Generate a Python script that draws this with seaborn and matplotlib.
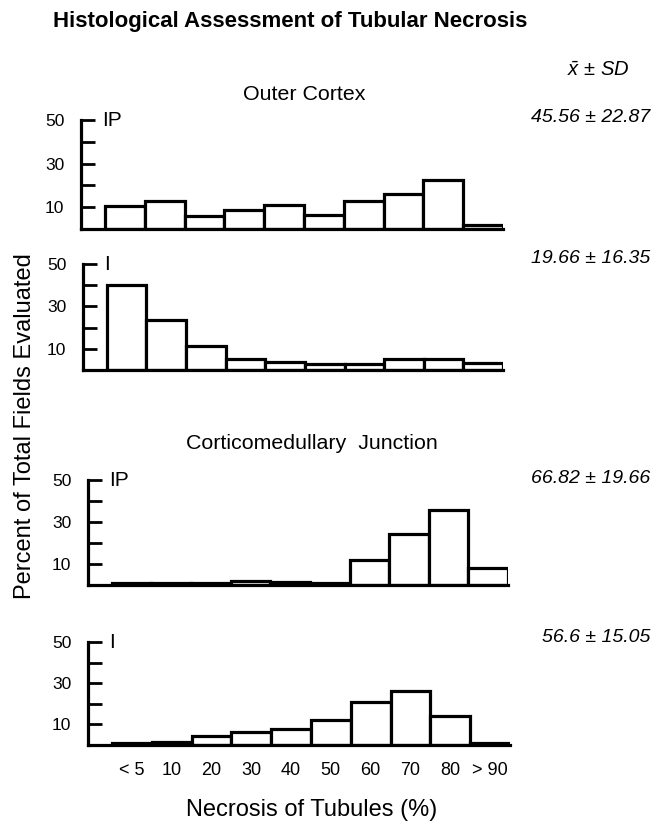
import matplotlib
matplotlib.use("Agg")
import matplotlib.pyplot as plt
import seaborn as sns
import pandas as pd

sns.set_style("white")
plt.rcParams['font.family'] = ['Liberation Sans', 'DejaVu Sans']
plt.rcParams.update({"text.color": "black", "xtick.color": "black", "ytick.color": "black",
                     "axes.labelcolor": "black", "mathtext.fontset": "custom",
                     "mathtext.it": "Liberation Sans:italic", "mathtext.rm": "Liberation Sans"})

categories = ["< 5", "10", "20", "30", "40", "50", "60", "70", "80", "> 90"]
outer_ip = [10.5, 13, 6, 8.5, 11, 6.5, 13, 16, 22.5, 2]
outer_i = [40, 23.5, 11.5, 5, 4, 3, 3, 5, 5, 3.5]
cmj_ip = [0.8, 0.8, 0.8, 2, 1.2, 0.8, 12, 24.5, 35.5, 8]
cmj_i = [0.8, 1.5, 4.5, 6.5, 8, 12, 21, 26, 14, 0.8]
yticks = [10, 20, 30, 40, 50]
ytick_labels = ["10", "", "30", "", "50"]
stats = ["45.56 \u00b1 22.87", "19.66 \u00b1 16.35", "66.82 \u00b1 19.66", "56.6 \u00b1 15.05"]
group_labels = ["IP", "I", "IP", "I"]

W, H = 658, 821
fig = plt.figure(figsize=(W / 100, H / 100), dpi=100)

# pixel rects: left, right, top, bottom
rects = [(81, 503, 120, 229), (83, 503, 264, 370), (88, 508, 480, 585), (88, 510, 642, 745)]
series = [outer_ip, outer_i, cmj_ip, cmj_i]
stat_y = [118, 258, 478, 637]

for i, (rect, vals) in enumerate(zip(rects, series)):
    l, r, t, b = rect
    ax = fig.add_axes([l / W, 1 - b / H, (r - l) / W, (b - t) / H])
    df = pd.DataFrame({"cat": categories, "val": vals})
    sns.barplot(data=df, x="cat", y="val", order=categories, width=1.0,
                color="white", edgecolor="black", linewidth=2.3, ax=ax)
    ax.set_xlim(-1.1, 9.5)
    ax.set_ylim(0, 50)
    ax.set_yticks(yticks)
    ax.set_yticklabels(ytick_labels, fontsize=12.5)
    ax.tick_params(axis="y", left=True, direction="in", length=10, width=2, pad=12)
    ax.set_xlabel("")
    ax.set_ylabel("")
    for s in ["top", "right"]:
        ax.spines[s].set_visible(False)
    for s in ["left", "bottom"]:
        ax.spines[s].set_linewidth(2.3)
        ax.spines[s].set_color("black")
    if i == 3:
        ax.tick_params(axis="x", length=0, labelsize=13, pad=12)
    else:
        ax.set_xticks([])
    ax.text(0.05, 1.0, group_labels[i], transform=ax.transAxes, fontsize=15,
            va="center", ha="left")
    fig.text(650 / W, 1 - stat_y[i] / H, stats[i], fontsize=14, style="italic",
             ha="right", va="center")

fig.text(53 / W, 1 - 21 / H, "Histological Assessment of Tubular Necrosis",
         fontsize=16, fontweight="bold", ha="left", va="center")
fig.text(598 / W, 1 - 70 / H, r"$\bar{x}$ $\pm$ $SD$", fontsize=14.5, ha="center", va="center")
fig.text(304 / W, 1 - 95 / H, "Outer Cortex", fontsize=15.4, ha="center", va="center")
fig.text(312 / W, 1 - 443 / H, "Corticomedullary  Junction", fontsize=15.4, ha="center", va="center")
fig.text(25 / W, 1 - 426 / H, "Percent of Total Fields Evaluated", fontsize=17,
         rotation=90, ha="center", va="center")
fig.text(312 / W, 1 - 810 / H, "Necrosis of Tubules (%)", fontsize=17, ha="center", va="center")

fig.savefig("out.png", dpi=100)
